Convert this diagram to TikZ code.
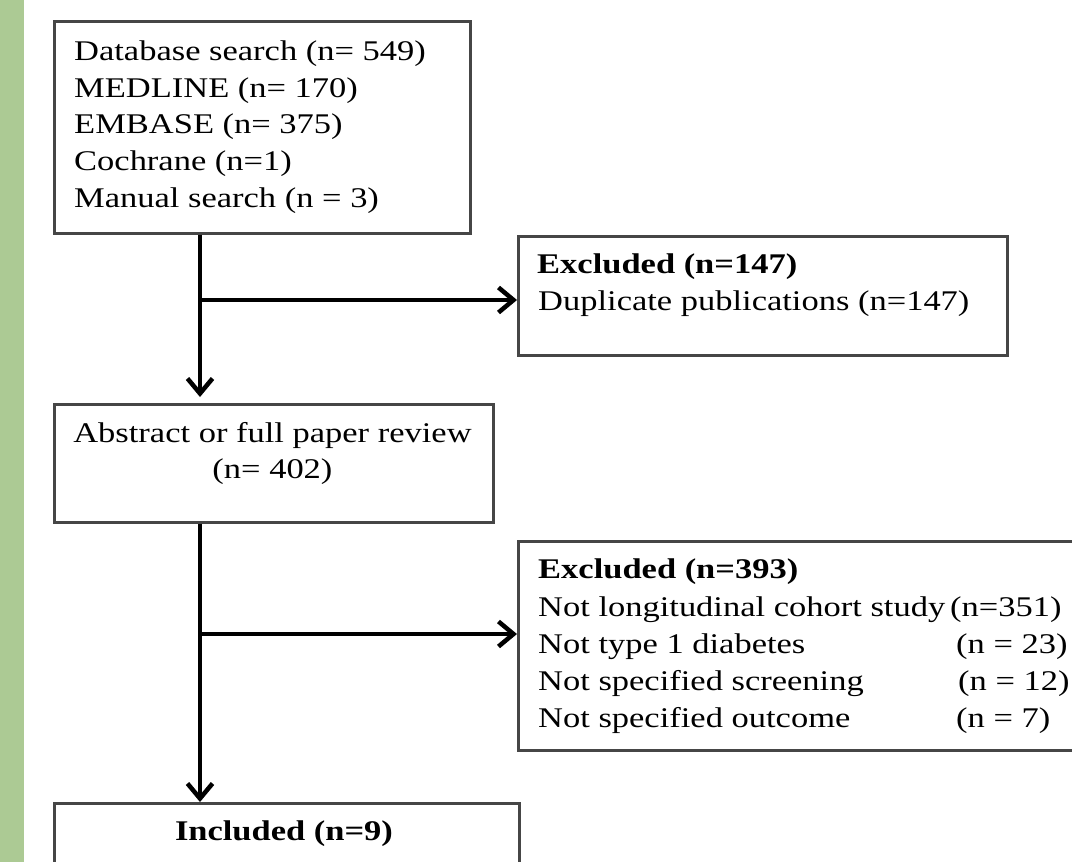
\documentclass[tikz,border=0pt]{standalone}
\usepackage{fontspec}
\setmainfont[FakeStretch=1.21]{Liberation Serif}
\usetikzlibrary{arrows.meta}
\definecolor{sage}{RGB}{172,202,148}
\definecolor{boxline}{RGB}{70,70,70}
\newcommand{\fsz}{\fontsize{28.5}{36.75}\selectfont}
\tikzset{
  x=1pt, y=-1pt,
  box/.style={draw=boxline, line width=2.6pt, fill=white, anchor=north west, inner sep=0pt},
  txt/.style={anchor=base west, inner sep=0pt, font=\fsz},
  ctxt/.style={anchor=base, inner sep=0pt, font=\fsz},
  arr/.style={line width=4.5pt, -{Straight Barb[length=15pt,width=25pt,line width=4.5pt]}}
}
\begin{document}
\begin{tikzpicture}
\useasboundingbox (0,0) rectangle (1072,862);
\fill[sage] (0,0) rectangle (24,862);
\begin{scope}
\clip (0,0) rectangle (1072,862);
% boxes
\node[box, minimum width=416pt, minimum height=212pt] (b1) at (53,20) {};
\node[box, minimum width=489pt, minimum height=119pt] (b2) at (517,235) {};
\node[box, minimum width=439pt, minimum height=118pt] (b3) at (53,403) {};
\node[box, minimum width=580pt, minimum height=209pt] (b4) at (517,540) {};
\node[box, minimum width=465pt, minimum height=100pt] (b5) at (53,802) {};
\end{scope}
% box 4 text
\node[txt, font=\fsz\bfseries] (t41) at (538,578) {Excluded (n=393)};
\node[txt] (t42) at (538,616) {Not longitudinal cohort study};
\node[txt] (t43) at (538,653) {Not type 1 diabetes};
\node[txt] (t44) at (538,690) {Not specified screening};
\node[txt] (t45) at (538,727) {Not specified outcome};
\node[txt] (n42) at (950,616) {(n=351)};
\node[txt] (n43) at (956,653) {(n = 23)};
\node[txt] (n44) at (958,690) {(n = 12)};
\node[txt] (n45) at (956,727) {(n = 7)};
% box 1 text
\node[txt] (t11) at (74,60) {Database search (n= 549)};
\node[txt] (t12) at (74,97) {MEDLINE (n= 170)};
\node[txt] (t13) at (74,133) {EMBASE (n= 375)};
\node[txt] (t14) at (74,170) {Cochrane (n=1)};
\node[txt] (t15) at (74,207) {Manual search (n = 3)};
% box 2 text
\node[txt, font=\fsz\bfseries] (t21) at (537,273) {Excluded (n=147)};
\node[txt] (t22) at (538,310) {Duplicate publications (n=147)};
% box 3 text
\node[ctxt] (t31) at (272.5,442) {Abstract or full paper review};
\node[ctxt] (t32) at (272.5,478) {(n= 402)};
% box 5 text
\node[ctxt, font=\fsz\bfseries] (t51) at (284,840) {Included (n=9)};
% connectors
\coordinate (trunk) at (200,0);
\coordinate (j1) at (200,300);
\coordinate (j2) at (200,634);
\draw[arr, shorten >=6pt] (b1.south -| trunk) -- (b3.north -| trunk);
\draw[arr] (j1) -- (j1 -| b2.west);
\draw[arr] (b3.south -| trunk) -- (b5.north -| trunk);
\draw[arr] (j2) -- (j2 -| b4.west);
\end{tikzpicture}
\end{document}
